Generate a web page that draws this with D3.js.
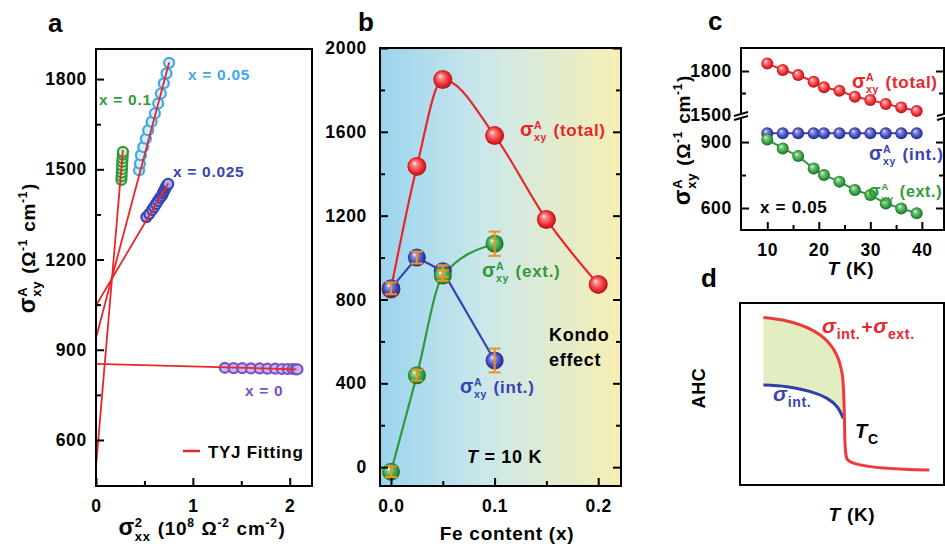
<!DOCTYPE html>
<html><head><meta charset="utf-8">
<script src="https://cdn.jsdelivr.net/npm/d3@7"></script>
<style>
html,body{margin:0;padding:0;background:#fff;}
svg text{font-family:"Liberation Sans",Arial,sans-serif;font-weight:bold;letter-spacing:0.7px;}
</style></head>
<body><svg id="chart" width="945" height="546"></svg>
<script>
// ---------- Panel a data ----------
const a_x0_sxx2 = [1.33,1.42,1.51,1.60,1.69,1.77,1.85,1.92,1.98,2.03,2.06,2.08];
const a_x0_sxy  = [840,839,839,838,838,837,837,836,836,836,835,835];
const a_x0025_sxx2 = [0.52,0.55,0.58,0.60,0.62,0.64,0.66,0.68,0.69,0.70,0.71,0.72,0.73,0.74,0.745];
const a_x0025_sxy  = [1341,1352,1365,1375,1385,1395,1405,1412,1420,1427,1433,1440,1445,1449,1452];
const a_x005_sxx2 = [0.445,0.454,0.464,0.488,0.515,0.539,0.574,0.608,0.642,0.670,0.700,0.728,0.755];
const a_x005_sxy  = [1497,1519,1547,1574,1602,1630,1658,1686,1719,1752,1786,1819,1854];
const a_x01_sxx2 = [0.262,0.264,0.266,0.268,0.270,0.272,0.274,0.276,0.278];
const a_x01_sxy  = [1465,1477,1489,1501,1513,1525,1537,1549,1558];
const a_fitIntercept = [853, 1047, 940, 511];
const a_fitSlope     = [-8.7, 545, 1212, 3790];
const a_fitEnd       = [2.07, 0.745, 0.755, 0.278];
const a_yTicks = [600, 900, 1200, 1500, 1800];
const a_yMinor = [750, 1050, 1350, 1650];
const a_xTicks = [0, 1, 2];
const a_xMinor = [0.5, 1.5];

// ---------- Panel b data ----------
const b_totalX = [0, 0.025, 0.05, 0.1, 0.15, 0.2];
const b_totalY = [850, 1435, 1850, 1582, 1182, 872];
const b_intX = [0, 0.025, 0.05, 0.1];
const b_intY = [853, 1000, 935, 509];
const b_intErr = [28, 28, 28, 57];
const b_extX = [0, 0.025, 0.05, 0.1];
const b_extY = [-22, 438, 914, 1066];
const b_extErr = [25, 25, 25, 58];
const b_yTicks = [0, 400, 800, 1200, 1600, 2000];
const b_yMinor = [200, 600, 1000, 1400, 1800];
const b_xTicks = [0, 0.1, 0.2];
const b_xMinor = [0.05, 0.15];

// ---------- Panel c data ----------
const c_T = [10, 13, 16, 19, 21, 24, 27, 30, 33, 36, 39];
const c_total = [1852, 1807, 1773, 1727, 1689, 1666, 1625, 1603, 1575, 1552, 1527];
const c_int   = [940, 940, 940, 940, 940, 940, 940, 940, 940, 940, 940];
const c_ext   = [912, 871, 836, 780, 750, 720, 682, 659, 621, 598, 576];
const c_xTicks = [10, 20, 30, 40];
const c_xMinor = [15, 25, 35];

// ---------- Panel d (schematic) ----------
const d_redT = [11.5, 23.0, 34.5, 42.7, 47.6, 50.1, 50.9, 51.2, 51.7, 52.6, 55.0, 64.0, 80.4, 92.8];
const d_redV = [92.0, 90.1, 85.6, 79.1, 70.9, 60.8, 48.0, 35.7, 19.2, 14.1, 12.3, 10.1, 8.6, 8.2];
const d_blueT = [11.5, 23.0, 34.5, 42.7, 47.6, 50.6];
const d_blueV = [54.9, 54.0, 51.3, 47.6, 43.0, 36.6];

const RED = "#e8262b", LBLUE = "#41a8e0", DBLUE = "#3a43b0", GREEN = "#2f9a3c", PURPLE = "#7a52c4", ORANGE = "#f0921e";

const svg = d3.select("#chart");
const defs = svg.append("defs");

function sphere(id, light, base, dark) {
  const g = defs.append("radialGradient").attr("id", id)
    .attr("cx", "0.5").attr("cy", "0.5").attr("r", "0.55").attr("fx", "0.35").attr("fy", "0.32");
  g.append("stop").attr("offset", "0").attr("stop-color", "#ffffff");
  g.append("stop").attr("offset", "0.22").attr("stop-color", light);
  g.append("stop").attr("offset", "0.7").attr("stop-color", base);
  g.append("stop").attr("offset", "1").attr("stop-color", dark);
}
sphere("gRed", "#ff8a8a", RED, "#a01015");
sphere("gBlue", "#8a95ea", DBLUE, "#1e2470");
sphere("gGreen", "#86d18c", GREEN, "#165c1e");

const bg = defs.append("linearGradient").attr("id", "bgB").attr("x1", "0").attr("x2", "1").attr("y1", "0").attr("y2", "0");
bg.append("stop").attr("offset", "0").attr("stop-color", "#9bd4ee");
bg.append("stop").attr("offset", "0.45").attr("stop-color", "#cde8ea");
bg.append("stop").attr("offset", "1").attr("stop-color", "#f7efb3");

// rich text helper
function rich(parent, x, y, parts, opt) {
  opt = Object.assign({anchor: "start", rotate: 0, fill: "#000", size: 18}, opt || {});
  const grp = parent.append("g").attr("transform", `translate(${x},${y}) rotate(${opt.rotate})`);
  const inner = grp.append("g");
  let cx = 0;
  parts.forEach(p => {
    const sz = p.size || opt.size;
    if (p.sup !== undefined || p.sub !== undefined) {
      let w = 0;
      const ss = p.ss || sz * 0.62;
      if (p.sup !== undefined) {
        const t = inner.append("text").attr("x", cx).attr("y", -sz * 0.42).style("font-size", ss + "px").text(p.sup);
        w = Math.max(w, t.node().getComputedTextLength());
      }
      if (p.sub !== undefined) {
        const t = inner.append("text").attr("x", cx).attr("y", sz * 0.3).style("font-size", ss + "px").text(p.sub);
        w = Math.max(w, t.node().getComputedTextLength());
      }
      cx += w + 1;
    } else {
      const t = inner.append("text").attr("x", cx).attr("y", 0).style("font-size", sz + "px")
        .style("font-style", p.italic ? "italic" : "normal").style("white-space", "pre").text(p.t);
      cx += t.node().getComputedTextLength();
    }
  });
  inner.selectAll("text").attr("fill", opt.fill);
  if (opt.anchor === "middle") inner.attr("transform", `translate(${-cx / 2},0)`);
  return grp;
}

function styleAxis(g) {
  g.select(".domain").remove();
  g.selectAll(".tick line").attr("stroke", "#000").attr("stroke-width", 2);
  g.selectAll(".tick text").style("font-size", "17.5px").attr("fill", "#000");
}
function yAxis(g, scale, x, major, minor, side, labels, pad) {
  const ax = (side === "left" ? d3.axisLeft(scale) : d3.axisRight(scale)).tickValues(major).tickSizeInner(-8).tickSizeOuter(0).tickPadding(pad || 9);
  ax.tickFormat(labels ? d3.format("d") : "");
  const a = g.append("g").attr("transform", `translate(${x},0)`).call(ax); styleAxis(a);
  if (minor && minor.length) {
    const m = (side === "left" ? d3.axisLeft(scale) : d3.axisRight(scale)).tickValues(minor).tickSizeInner(-5).tickSizeOuter(0).tickFormat("");
    const b = g.append("g").attr("transform", `translate(${x},0)`).call(m); styleAxis(b);
  }
}
function xAxis(g, scale, y, major, minor, fmt) {
  const ax = d3.axisBottom(scale).tickValues(major).tickSizeInner(-8).tickSizeOuter(0).tickPadding(14);
  if (fmt) ax.tickFormat(fmt);
  const a = g.append("g").attr("transform", `translate(0,${y})`).call(ax); styleAxis(a);
  const m = d3.axisBottom(scale).tickValues(minor).tickSizeInner(-5).tickSizeOuter(0).tickFormat("");
  const b = g.append("g").attr("transform", `translate(0,${y})`).call(m); styleAxis(b);
}
function frame(g, l, t, r, b, fill) {
  g.append("rect").attr("x", l).attr("y", t).attr("width", r - l).attr("height", b - t)
    .attr("fill", fill || "none").attr("stroke", "#000").attr("stroke-width", 2);
}
function panelLetter(t, x, y) {
  svg.append("text").attr("x", x).attr("y", y).style("font-size", "26px").style("letter-spacing", "0px").text(t);
}
const sig = (sup, sub, rest, size) => [{t: "σ", size: size * 1.15}, {sup: sup, sub: sub}, {t: rest}];

// ================= Panel a =================
{
  const g = svg.append("g");
  const L = 96, R = 312, T = 49, B = 486;
  const x = d3.scaleLinear().domain([0, 2.23]).range([L, R]);
  const y = d3.scaleLinear().domain([447, 1900]).range([B, T]);
  const clip = defs.append("clipPath").attr("id", "clipA");
  clip.append("rect").attr("x", L).attr("y", T).attr("width", R - L).attr("height", B - T);
  const pl = g.append("g").attr("clip-path", "url(#clipA)");
  const sets = [
    {xs: a_x0_sxx2, ys: a_x0_sxy, c: PURPLE, f: "#c9b6ee"},
    {xs: a_x0025_sxx2, ys: a_x0025_sxy, c: DBLUE, f: "#aab0ee"},
    {xs: a_x005_sxx2, ys: a_x005_sxy, c: LBLUE, f: "#d6eefb"},
    {xs: a_x01_sxx2, ys: a_x01_sxy, c: GREEN, f: "#d3efcf"}
  ];
  sets.forEach(s => {
    pl.selectAll(null).data(s.xs.map((v, i) => [v, s.ys[i]])).enter().append("circle")
      .attr("cx", d => x(d[0])).attr("cy", d => y(d[1])).attr("r", 5)
      .attr("fill", s.f).attr("stroke", s.c).attr("stroke-width", 2.2);
  });
  a_fitIntercept.forEach((b0, i) => {
    pl.append("line").attr("x1", x(0)).attr("y1", y(b0))
      .attr("x2", x(a_fitEnd[i])).attr("y2", y(b0 + a_fitSlope[i] * a_fitEnd[i]))
      .attr("stroke", RED).attr("stroke-width", 1.8);
  });
  frame(g, L, T, R, B);
  yAxis(g, y, L, a_yTicks, a_yMinor, "left", true, 9);
  xAxis(g, x, B, a_xTicks, a_xMinor, d3.format("d"));
  g.append("text").attr("x", 188).attr("y", 80).attr("fill", LBLUE).style("font-size", "15.5px").text("x = 0.05");
  g.append("text").attr("x", 99).attr("y", 105).attr("fill", GREEN).style("font-size", "15.5px").text("x = 0.1");
  g.append("text").attr("x", 173).attr("y", 177).attr("fill", DBLUE).style("font-size", "15.5px").text("x = 0.025");
  g.append("text").attr("x", 245).attr("y", 396).attr("fill", PURPLE).style("font-size", "15.5px").text("x = 0");
  g.append("line").attr("x1", 183).attr("x2", 200).attr("y1", 451).attr("y2", 451).attr("stroke", RED).attr("stroke-width", 2.5);
  g.append("text").attr("x", 208).attr("y", 458).style("font-size", "17px").text("TYJ Fitting");
  rich(g, 35, 248, [{t: "σ", size: 23}, {sup: "A", sub: "xy", ss: 13}, {t: "\u00a0(Ω"}, {sup: "-1", ss: 12}, {t: "\u00a0cm"}, {sup: "-1", ss: 12}, {t: ")"}], {rotate: -90, anchor: "middle", size: 19});
  rich(g, 202, 535, [{t: "σ", size: 23}, {sup: "2", sub: "xx", ss: 13}, {t: "\u00a0(10"}, {sup: "8", ss: 12}, {t: "\u00a0Ω"}, {sup: "-2", ss: 12}, {t: "\u00a0cm"}, {sup: "-2", ss: 12}, {t: ")"}], {anchor: "middle", size: 19});
  panelLetter("a", 48, 32);
}

// ================= Panel b =================
{
  const g = svg.append("g");
  const L = 380, R = 621, T = 48, B = 486;
  const x = d3.scaleLinear().domain([-0.0106, 0.222]).range([L, R]);
  const y = d3.scaleLinear().domain([-90, 2000]).range([B, T]);
  frame(g, L, T, R, B, "url(#bgB)");
  const line = (curve) => d3.line().x(d => x(d[0])).y(d => y(d[1])).curve(curve);
  const tot = b_totalX.map((v, i) => [v, b_totalY[i]]);
  const int = b_intX.map((v, i) => [v, b_intY[i]]);
  const ext = b_extX.map((v, i) => [v, b_extY[i]]);
  g.append("path").attr("d", line(d3.curveMonotoneX)(tot)).attr("fill", "none").attr("stroke", RED).attr("stroke-width", 2.2);
  g.append("path").attr("d", line(d3.curveMonotoneX)(ext)).attr("fill", "none").attr("stroke", GREEN).attr("stroke-width", 2.2);
  g.append("path").attr("d", line(d3.curveLinear)(int)).attr("fill", "none").attr("stroke", DBLUE).attr("stroke-width", 2.2);
  g.selectAll(null).data(tot).enter().append("circle").attr("cx", d => x(d[0])).attr("cy", d => y(d[1])).attr("r", 9.5).attr("fill", "url(#gRed)");
  g.selectAll(null).data(int).enter().append("circle").attr("cx", d => x(d[0])).attr("cy", d => y(d[1])).attr("r", 9).attr("fill", "url(#gBlue)");
  g.selectAll(null).data(ext).enter().append("circle").attr("cx", d => x(d[0])).attr("cy", d => y(d[1])).attr("r", 9).attr("fill", "url(#gGreen)");
  const errs = int.map((d, i) => [d[0], d[1], b_intErr[i]]).concat(ext.map((d, i) => [d[0], d[1], b_extErr[i]]));
  errs.forEach(e => {
    const cx = x(e[0]), y1 = y(e[1] + e[2]), y2 = y(e[1] - e[2]);
    g.append("line").attr("x1", cx).attr("x2", cx).attr("y1", y1).attr("y2", y2).attr("stroke", ORANGE).attr("stroke-width", 2);
    [y1, y2].forEach(yy => g.append("line").attr("x1", cx - 6).attr("x2", cx + 6).attr("y1", yy).attr("y2", yy).attr("stroke", ORANGE).attr("stroke-width", 2));
  });
  frame(g, L, T, R, B);
  yAxis(g, y, L, b_yTicks, b_yMinor, "left", true, 13);
  yAxis(g, y, R, b_yTicks, b_yMinor, "right", false);
  xAxis(g, x, B, b_xTicks, b_xMinor, d3.format(".1f"));
  rich(g, 520, 136, sig("A", "xy", "\u00a0(total)", 17), {fill: RED, size: 17});
  rich(g, 482, 277, sig("A", "xy", "\u00a0(ext.)", 17), {fill: GREEN, size: 17});
  rich(g, 460, 393, sig("A", "xy", "\u00a0(int.)", 17), {fill: DBLUE, size: 17});
  g.append("text").attr("x", 549).attr("y", 341).style("font-size", "18px").text("Kondo");
  g.append("text").attr("x", 549).attr("y", 366).style("font-size", "18px").text("effect");
  rich(g, 467, 463, [{t: "T", italic: true}, {t: "\u00a0= 10 K"}], {size: 18});
  g.append("text").attr("x", 507).attr("y", 540).attr("text-anchor", "middle").style("font-size", "19px").text("Fe content (x)");
  panelLetter("b", 358, 31);
}

// ================= Panel c =================
{
  const g = svg.append("g");
  const L = 741, R = 944, T = 48, B = 230, BRK = 115;
  const x = d3.scaleLinear().domain([4.9, 44.3]).range([L, R]);
  const yu = d3.scaleLinear().domain([1500, 1957]).range([BRK, T]);
  const yl = d3.scaleLinear().domain([500, 1023]).range([B, BRK]);
  const ln = (ys, sc) => d3.line().x((d, i) => x(c_T[i])).y(d => sc(d))(ys);
  const series = [[c_total, yu, RED, "url(#gRed)"], [c_int, yl, DBLUE, "url(#gBlue)"], [c_ext, yl, GREEN, "url(#gGreen)"]];
  series.forEach(s => {
    g.append("path").attr("d", ln(s[0], s[1])).attr("fill", "none").attr("stroke", s[2]).attr("stroke-width", 2);
    g.selectAll(null).data(s[0]).enter().append("circle").attr("cx", (d, i) => x(c_T[i])).attr("cy", d => s[1](d)).attr("r", 6).attr("fill", s[3]);
  });
  frame(g, L, T, R, B);
  yAxis(g, yu, L, [1800], [1650], "left", true, 9);
  yAxis(g, yl, L, [600, 900], [750], "left", true, 9);
  yAxis(g, yu, R, [1800], [1650], "right", false);
  yAxis(g, yl, R, [600, 900], [750], "right", false);
  g.append("text").attr("x", L - 9).attr("y", BRK + 6).attr("text-anchor", "end").style("font-size", "17.5px").text("1500");
  xAxis(g, x, B, c_xTicks, c_xMinor, d3.format("d"));
  [L, R].forEach(xx => {
    g.append("polygon").attr("points", `${xx - 7},${BRK + 1} ${xx + 7},${BRK - 3} ${xx + 7},${BRK + 1} ${xx - 7},${BRK + 5}`).attr("fill", "#fff");
    g.append("line").attr("x1", xx - 7).attr("y1", BRK + 1).attr("x2", xx + 7).attr("y2", BRK - 3).attr("stroke", "#000").attr("stroke-width", 2);
    g.append("line").attr("x1", xx - 7).attr("y1", BRK + 5).attr("x2", xx + 7).attr("y2", BRK + 1).attr("stroke", "#000").attr("stroke-width", 2);
  });
  rich(g, 852, 88, sig("A", "xy", "\u00a0(total)", 17), {fill: RED, size: 17});
  rich(g, 869, 160, sig("A", "xy", "\u00a0(int.)", 17), {fill: DBLUE, size: 17});
  rich(g, 868, 197, sig("A", "xy", "\u00a0(ext.)", 16), {fill: GREEN, size: 16});
  g.append("text").attr("x", 760).attr("y", 213).style("font-size", "17px").text("x = 0.05");
  rich(g, 690, 140, [{t: "σ", size: 23}, {sup: "A", sub: "xy", ss: 13}, {t: "\u00a0(Ω"}, {sup: "-1", ss: 12}, {t: "\u00a0cm"}, {sup: "-1", ss: 12}, {t: ")"}], {rotate: -90, anchor: "middle", size: 19});
  rich(g, 851, 275, [{t: "T", italic: true}, {t: "\u00a0(K)"}], {anchor: "middle", size: 19});
  panelLetter("c", 708, 30);
}

// ================= Panel d =================
{
  const g = svg.append("g");
  const L = 740, R = 944, T = 303, B = 485;
  const x = d3.scaleLinear().domain([0, 100]).range([L, R]);
  const y = d3.scaleLinear().domain([0, 100]).range([B, T]);
  const red = d_redT.map((v, i) => [v, d_redV[i]]);
  const blue = d_blueT.map((v, i) => [v, d_blueV[i]]);
  const ln = d3.line().x(d => x(d[0])).y(d => y(d[1])).curve(d3.curveCatmullRom.alpha(0.5));
  const fillPts = red.slice(0, 8).concat(blue.slice().reverse());
  g.append("path").attr("d", ln(fillPts) + "Z").attr("fill", "#e2edc2");
  g.append("path").attr("d", ln(blue)).attr("fill", "none").attr("stroke", "#2b3fae").attr("stroke-width", 3);
  g.append("path").attr("d", ln(red)).attr("fill", "none").attr("stroke", "#ee3a3e").attr("stroke-width", 3);
  frame(g, L, T, R, B);
  rich(g, 822, 333, [{t: "σ", italic: true, size: 21}, {sub: "int.", ss: 14}, {t: "+", size: 19}, {t: "σ", italic: true, size: 21}, {sub: "ext.", ss: 14}], {fill: RED, size: 19});
  rich(g, 773, 401, [{t: "σ", italic: true, size: 21}, {sub: "int.", ss: 14}], {fill: DBLUE, size: 19});
  rich(g, 855, 438, [{t: "T", italic: true, size: 20}, {sub: "C", ss: 14}], {size: 20});
  g.append("text").attr("transform", "translate(705,388) rotate(-90)").attr("text-anchor", "middle").style("font-size", "18px").text("AHC");
  rich(g, 852, 521, [{t: "T", italic: true}, {t: "\u00a0(K)"}], {anchor: "middle", size: 19});
  panelLetter("d", 701, 287);
}
</script></body></html>
